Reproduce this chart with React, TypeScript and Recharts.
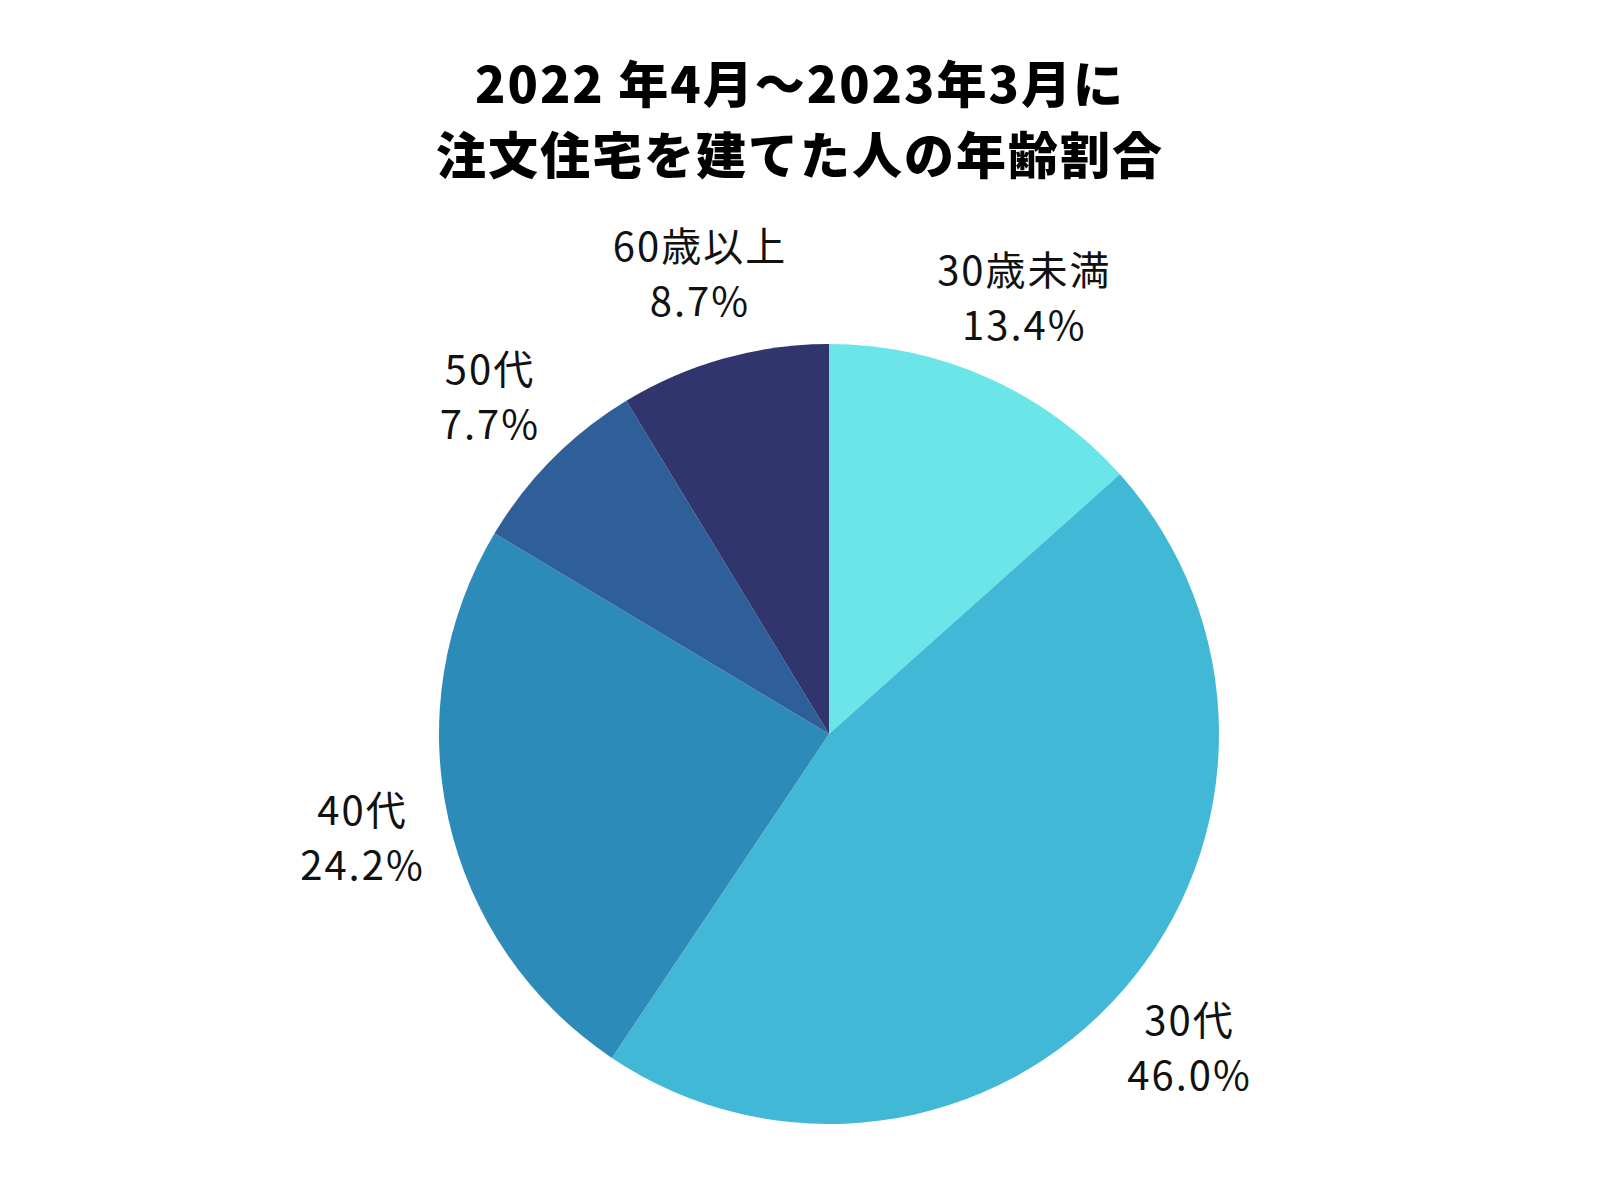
import React from 'react';
import { PieChart, Pie, Cell } from 'recharts';

const ageGroups = ['30歳未満', '30代', '40代', '50代', '60歳以上'];
const shares = [13.4, 46.0, 24.2, 7.7, 8.7];
const colors = ['#6CE5E8', '#41B8D5', '#2D8BBA', '#2F5F98', '#31356E'];
const titleLines = ['2022 年4月～2023年3月に', '注文住宅を建てた人の年齢割合'];

const data = ageGroups.map((name, i) => ({ name, value: shares[i] }));

const RAD = Math.PI / 180;
const FONT = '"Noto Sans CJK JP", "Noto Sans", sans-serif';

const renderLabel = (props: any) => {
  const { cx, cy, midAngle, outerRadius, name, value } = props;
  const r = outerRadius + 88;
  const x = cx + r * Math.cos(-midAngle * RAD);
  const y = cy + r * Math.sin(-midAngle * RAD);
  return (
    <text
      x={x}
      y={y}
      textAnchor="middle"
      fill="#111"
      fontSize={40}
      letterSpacing={2}
      fontFamily={FONT}
    >
      <tspan x={x} dy={-13}>{name}</tspan>
      <tspan x={x} dy={55}>{value.toFixed(1)}%</tspan>
    </text>
  );
};

export default function App() {
  return (
    <div style={{ position: 'absolute', left: 0, top: 0, width: 1600, height: 1200, background: '#fff' }}>
      <div
        style={{
          position: 'absolute',
          left: 0,
          top: 46,
          width: 1600,
          textAlign: 'center',
          fontFamily: FONT,
          fontWeight: 900,
          fontSize: 50,
          lineHeight: '71px',
          letterSpacing: 2,
          color: '#000',
        }}
      >
        {titleLines.map((t) => (
          <div key={t}>{t}</div>
        ))}
      </div>
      <PieChart width={1600} height={1200}>
        <Pie
          data={data}
          dataKey="value"
          nameKey="name"
          cx={824}
          cy={729}
          outerRadius={390}
          startAngle={90}
          endAngle={-270}
          stroke="none"
          label={renderLabel}
          labelLine={false}
          isAnimationActive={false}
        >
          {data.map((d, i) => (
            <Cell key={d.name} fill={colors[i]} />
          ))}
        </Pie>
      </PieChart>
    </div>
  );
}
